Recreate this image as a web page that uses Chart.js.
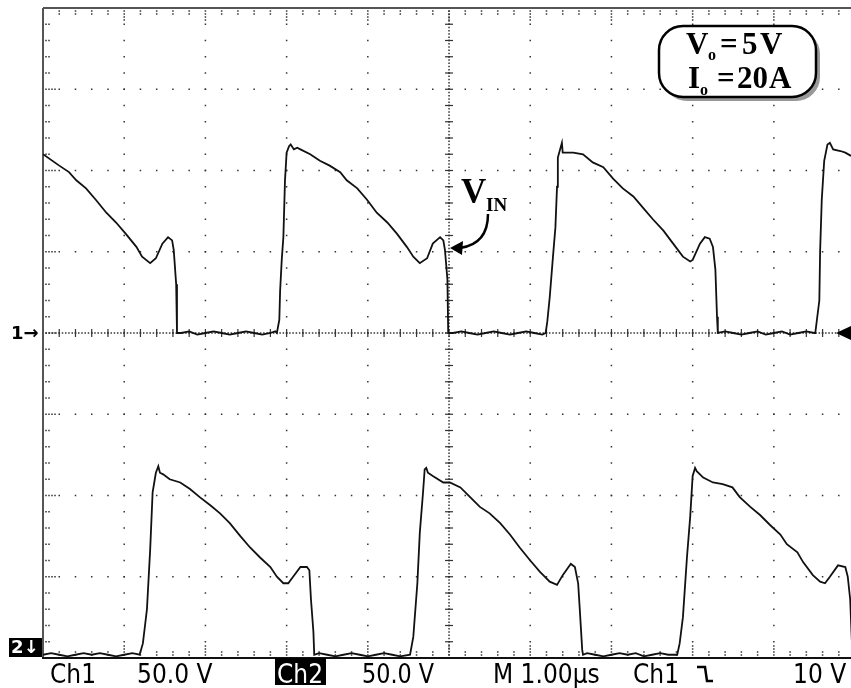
<!DOCTYPE html>
<html>
<head>
<meta charset="utf-8">
<script src="https://cdn.jsdelivr.net/npm/chart.js@4"></script>
<style>
  html, body { margin: 0; padding: 0; background: #fff; overflow: hidden; }
  canvas { display: block; }
</style>
</head>
<body>
<canvas id="scope" width="851" height="688"></canvas>
<script>
// Ch1 trace: [time in µs, volts] (50 V/div, ground at centre line)
const ch1 = [
  [0, 110], [0.20, 103], [0.32, 99], [0.41, 94], [0.53, 89], [0.65, 82], [0.78, 74], [0.90, 68],
  [1.02, 61], [1.15, 53], [1.22, 47], [1.32, 43], [1.39, 46], [1.47, 55], [1.54, 59], [1.59, 57],
  [1.61, 51], [1.64, 30], [1.65, 0],
  [1.70, 0], [1.80, 1], [1.90, -1], [2.00, 0], [2.10, 1], [2.20, 0], [2.30, -1], [2.40, 0],
  [2.50, 1], [2.60, 0], [2.70, -1], [2.80, 0], [2.86, 1],
  [2.88, 0], [2.91, 8], [2.92, 26], [2.94, 45], [2.96, 59], [2.98, 94], [3.00, 111], [3.03, 115],
  [3.05, 116], [3.09, 113], [3.13, 114], [3.17, 113], [3.29, 110], [3.41, 106], [3.53, 103],
  [3.66, 99], [3.74, 94], [3.87, 89], [3.99, 82], [4.11, 74], [4.24, 68], [4.36, 61], [4.48, 53],
  [4.56, 47], [4.64, 43], [4.73, 46], [4.80, 55], [4.89, 59], [4.93, 57], [4.95, 51], [4.98, 33],
  [4.99, 0],
  [5.05, 0], [5.15, 1], [5.25, 0], [5.35, -1], [5.45, 0], [5.55, 1], [5.65, 0], [5.75, -1],
  [5.85, 0], [5.95, 1], [6.05, 0], [6.15, -1],
  [6.19, 0], [6.21, 7], [6.24, 22], [6.28, 47], [6.31, 65], [6.33, 90], [6.34, 108], [6.39, 117],
  [6.40, 111], [6.53, 111], [6.65, 110], [6.77, 105], [6.90, 102], [7.02, 95], [7.14, 89],
  [7.27, 84], [7.39, 77], [7.51, 70], [7.64, 63], [7.76, 55], [7.88, 47], [7.97, 44], [8.00, 45],
  [8.09, 55], [8.15, 59], [8.21, 58], [8.25, 53], [8.28, 39], [8.30, 10], [8.31, 0],
  [8.40, 1], [8.50, 0], [8.60, -1], [8.70, 0], [8.80, 1], [8.90, -1], [9.00, 0], [9.10, 1],
  [9.20, -1], [9.30, 0], [9.40, 1], [9.50, 0],
  [9.51, 0], [9.53, 8], [9.56, 20], [9.57, 51], [9.59, 82], [9.62, 106], [9.66, 116], [9.69, 117],
  [9.73, 113], [9.82, 112], [9.88, 111], [9.95, 109]
];

// Ch2 trace: [time in µs, volts] (50 V/div, ground near the bottom edge)
const ch2 = [
  [0, 0], [0.1, 1], [0.2, 0], [0.3, -1], [0.4, 0], [0.5, 1], [0.6, 0], [0.7, 1], [0.8, 0],
  [0.9, -1], [1.0, 0], [1.1, 1],
  [1.19, 0], [1.23, 7], [1.28, 28], [1.32, 65], [1.35, 100], [1.39, 112], [1.42, 116], [1.44, 112],
  [1.48, 111], [1.56, 108], [1.69, 106], [1.81, 102], [1.93, 97], [2.06, 92], [2.18, 87],
  [2.30, 81], [2.43, 73], [2.55, 66], [2.67, 60], [2.80, 54], [2.88, 48], [2.96, 44], [3.02, 44],
  [3.08, 48], [3.17, 54], [3.25, 54], [3.28, 52], [3.30, 34], [3.33, 14], [3.34, 0],
  [3.4, 1], [3.5, 0], [3.6, -1], [3.7, 0], [3.8, 1], [3.9, 0], [4.0, -1], [4.1, 0], [4.2, 1],
  [4.3, 0], [4.4, -1],
  [4.52, 0], [4.56, 11], [4.61, 44], [4.64, 75], [4.68, 100], [4.70, 114], [4.72, 115], [4.74, 112],
  [4.80, 110], [4.93, 106], [5.01, 106], [5.14, 103], [5.26, 97], [5.38, 91], [5.50, 87],
  [5.63, 81], [5.75, 74], [5.87, 66], [6.00, 58], [6.12, 51], [6.24, 45], [6.33, 43], [6.40, 49],
  [6.50, 56], [6.55, 54], [6.59, 44], [6.61, 28], [6.64, 3], [6.65, 0],
  [6.7, 1], [6.8, 0], [6.9, -1], [7.0, 0], [7.1, 1], [7.2, 0], [7.3, 1], [7.4, -1], [7.5, 0],
  [7.6, 1], [7.7, 0],
  [7.81, 0], [7.84, 7], [7.88, 23], [7.93, 60], [7.97, 85], [8.00, 110], [8.03, 115], [8.05, 113],
  [8.13, 109], [8.25, 106], [8.37, 105], [8.49, 103], [8.58, 97], [8.71, 91], [8.83, 86],
  [8.95, 80], [9.08, 74], [9.16, 68], [9.29, 63], [9.36, 57], [9.48, 49], [9.57, 45], [9.63, 44],
  [9.69, 48], [9.79, 55], [9.88, 54], [9.91, 48], [9.94, 34], [9.96, 9]
];

const voltsPerDiv = 50;
const ch2Ground = -3.96; // divisions, relative to the centre line

// readout row under the screen
const readoutTexts = ['Ch1', '50.0 V', 'Ch2', '50.0 V', 'M 1.00µs', 'Ch1', '10 V'];
const readoutX = [50, 137, 277, 362, 493, 633, 793];
const readoutW = [47, 76, 46, 72, 117, 47, 54];

function toDivs(points, offset) {
  return points.map(p => ({ x: p[0], y: p[1] / voltsPerDiv + offset }));
}

function dot(ctx, x, y) {
  ctx.fillRect(x - 0.75, y - 0.75, 1.5, 1.5);
}

const graticule = {
  id: 'graticule',
  beforeDatasetsDraw(chart) {
    const ctx = chart.ctx;
    const xs = chart.scales.x;
    const ys = chart.scales.y;
    const a = chart.chartArea;
    ctx.save();
    ctx.fillStyle = '#333';

    // major lines, a dot every 0.2 div
    for (let k = 1; k <= 9; k++) {
      const px = xs.getPixelForValue(k);
      for (let j = 0; j <= 40; j++) dot(ctx, px, ys.getPixelForValue(-4 + j * 0.2));
    }
    for (let k = -3; k <= 3; k++) {
      const py = ys.getPixelForValue(k);
      for (let i = 0; i * 0.2 <= 10; i++) dot(ctx, xs.getPixelForValue(i * 0.2), py);
    }

    // centre axes: dense dots plus small ticks
    const cx = xs.getPixelForValue(5);
    const cy = ys.getPixelForValue(0);
    for (let i = 0; i * 0.04 <= 10; i++) dot(ctx, xs.getPixelForValue(i * 0.04), cy);
    for (let j = 0; j <= 200; j++) dot(ctx, cx, ys.getPixelForValue(-4 + j * 0.04));
    for (let i = 1; i * 0.2 <= 10; i++) {
      const px = xs.getPixelForValue(i * 0.2);
      ctx.fillRect(px - 0.6, cy - 4, 1.2, 8);
    }
    for (let j = 1; j < 40; j++) {
      const py = ys.getPixelForValue(-4 + j * 0.2);
      ctx.fillRect(cx - 4, py - 0.6, 8, 1.2);
    }

    // edge ticks
    for (let i = 1; i * 0.2 <= 10; i++) {
      const px = xs.getPixelForValue(i * 0.2);
      const n = (i % 5 === 0) ? 4 : 2;
      for (let m = 1; m <= n; m++) {
        dot(ctx, px, a.top + m * 3);
        dot(ctx, px, a.bottom - m * 3);
      }
    }
    for (let j = 1; j < 40; j++) {
      const py = ys.getPixelForValue(-4 + j * 0.2);
      const n = (j % 5 === 0) ? 4 : 2;
      for (let m = 1; m <= n; m++) dot(ctx, a.left + m * 3, py);
    }

    // screen border
    ctx.fillStyle = '#555';
    ctx.fillRect(a.left - 1, a.top, 2, a.bottom - a.top);
    ctx.fillRect(a.left, a.top - 1, a.right - a.left, 2);
    ctx.fillStyle = '#111';
    ctx.fillRect(a.left - 1, a.bottom - 1, a.right - a.left + 1, 2);
    ctx.restore();
  },
  afterDraw(chart) {
    const ctx = chart.ctx;
    const ys = chart.scales.y;
    const a = chart.chartArea;
    const gy = ys.getPixelForValue(0);
    ctx.save();

    // channel markers
    ctx.fillStyle = '#000';
    ctx.font = 'bold 18px "DejaVu Sans"';
    ctx.textBaseline = 'middle';
    ctx.fillText('1→', 11, gy + 1);
    ctx.fillRect(9, a.bottom - 20, 33, 19);
    ctx.fillStyle = '#fff';
    ctx.fillText('2↓', 11, a.bottom - 10);

    ctx.fillStyle = '#000';
    ctx.beginPath();
    ctx.moveTo(836, gy);
    ctx.lineTo(851, gy - 7);
    ctx.lineTo(851, gy + 7);
    ctx.closePath();
    ctx.fill();

    // readout row
    ctx.textBaseline = 'alphabetic';
    ctx.font = '26px "DejaVu Sans Condensed", "DejaVu Sans"';
    ctx.fillRect(275, 658, 51, 27);
    for (let i = 0; i < readoutTexts.length; i++) {
      ctx.fillStyle = (i === 2) ? '#fff' : '#000';
      ctx.fillText(readoutTexts[i], readoutX[i], 683, readoutW[i]);
    }
    // falling edge trigger symbol
    ctx.strokeStyle = '#000';
    ctx.lineWidth = 2.5;
    ctx.beginPath();
    ctx.moveTo(697, 667);
    ctx.lineTo(705, 667);
    ctx.lineTo(707, 681);
    ctx.lineTo(713, 681);
    ctx.stroke();

    // V_IN callout
    ctx.fillStyle = '#000';
    ctx.font = 'bold 35px "Liberation Serif"';
    ctx.fillText('V', 461, 203);
    ctx.font = 'bold 19px "Liberation Serif"';
    ctx.fillText('IN', 486, 211);
    ctx.lineWidth = 2.5;
    ctx.beginPath();
    ctx.moveTo(488, 214);
    ctx.quadraticCurveTo(488, 244, 460, 248);
    ctx.stroke();
    ctx.beginPath();
    ctx.moveTo(450, 248);
    ctx.lineTo(463, 241);
    ctx.lineTo(462, 255);
    ctx.closePath();
    ctx.fill();

    // Vo / Io box
    ctx.fillStyle = '#999';
    ctx.beginPath();
    ctx.roundRect(663, 30, 157, 71, 24);
    ctx.fill();
    ctx.fillStyle = '#fff';
    ctx.beginPath();
    ctx.roundRect(659, 26, 157, 71, 24);
    ctx.fill();
    ctx.lineWidth = 2.5;
    ctx.stroke();

    ctx.fillStyle = '#000';
    ctx.font = 'bold 31px "Liberation Serif"';
    ctx.fillText('V', 686, 54);
    ctx.fillText('=', 720, 54);
    ctx.fillText('5', 742, 54);
    ctx.fillText('V', 760, 54);
    ctx.fillText('I', 688, 88);
    ctx.fillText('=', 717, 88);
    ctx.fillText('20', 737, 88);
    ctx.fillText('A', 769, 88);
    ctx.font = 'bold 16px "Liberation Serif"';
    ctx.fillText('o', 708, 60);
    ctx.fillText('o', 700, 95);
    ctx.restore();
  }
};

new Chart(document.getElementById('scope'), {
  type: 'line',
  data: {
    datasets: [
      {
        label: 'Ch1',
        data: toDivs(ch1, 0),
        borderColor: '#111',
        borderWidth: 1.8,
        pointRadius: 0,
        tension: 0
      },
      {
        label: 'Ch2',
        data: toDivs(ch2, ch2Ground),
        borderColor: '#111',
        borderWidth: 1.8,
        pointRadius: 0,
        tension: 0
      }
    ]
  },
  options: {
    responsive: false,
    devicePixelRatio: 1,
    animation: false,
    layout: { padding: { left: 43, top: 8, right: 0, bottom: 30 } },
    plugins: {
      legend: { display: false },
      tooltip: { enabled: false }
    },
    scales: {
      x: { type: 'linear', min: 0, max: 9.95, display: false },
      y: { type: 'linear', min: -4, max: 4, display: false }
    }
  },
  plugins: [graticule]
});
</script>
</body>
</html>
